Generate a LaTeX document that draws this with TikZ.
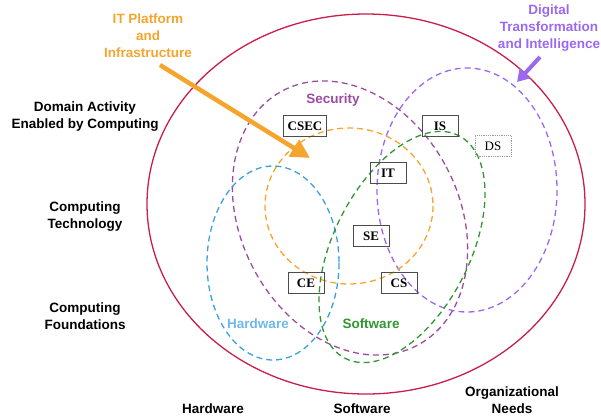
\documentclass[tikz,border=0pt]{standalone}
\usepackage{fontspec}
\setmainfont{Liberation Sans}
\newfontfamily\boxserif{Liberation Serif}
\usepackage{xcolor}
\usepackage{tikz}
\usetikzlibrary{arrows.meta}
\definecolor{ringred}{RGB}{200,30,75}
\definecolor{secpurple}{RGB}{155,75,160}
\definecolor{dtviolet}{RGB}{155,105,240}
\definecolor{itorange}{RGB}{245,165,45}
\definecolor{hwblue}{RGB}{60,160,220}
\definecolor{hwtext}{RGB}{110,185,235}
\definecolor{swgreen}{RGB}{50,150,50}
\newcommand{\labfont}{\fontsize{13.5}{17}\selectfont\bfseries}
\newcommand{\discfont}{\boxserif\fontsize{13}{14}\selectfont}

\begin{document}
\begin{tikzpicture}[x=1pt,y=-1pt,
	lab/.style={font=\labfont,align=center,inner sep=0pt},
	disc/.style={font=\discfont\bfseries,draw=black!70,line width=0.8pt,minimum width=36pt,minimum height=21pt,inner sep=4pt},
	ring/.style={line width=1.3pt,dash pattern=on 6pt off 4pt}]
	\useasboundingbox (0,0) rectangle (601,416);
	\draw[ringred,line width=1.3pt] (366,204) ellipse (219 and 190);
	\draw[ring,secpurple,rotate around={28:(350,218)}] (350,218) ellipse (109 and 144);
	\draw[ring,dtviolet] (467,190) ellipse (90 and 122);
	\draw[ring,itorange] (349,206) ellipse (84 and 78);
	\draw[ring,hwblue] (273,263) ellipse (66 and 97);
	\draw[ring,swgreen,rotate around={-27:(402,247)}] (402,247) ellipse (68 and 125);
	\node[disc] (csec) at (305,126) {CSEC};
	\node[disc] (is) at (440,126) {IS};
	\node[disc,font=\discfont,draw=black!40,densely dotted] (ds) at (493,146) {DS};
	\node[disc] (it) at (388,173) {IT};
	\node[disc] (se) at (371,236) {SE};
	\node[disc] (ce) at (306,283) {CE};
	\node[disc] (cs) at (399,283) {CS};
	\node[lab,text=secpurple] (seclab) at (333,100) {Security};
	\node[lab,text=hwtext] (hwlab) at (258,324) {Hardware};
	\node[lab,text=swgreen] (swlab) at (371,324) {Software};
	\node[lab,text=itorange] (itlab) at (148,35.5) {IT Platform\\and\\Infrastructure};
	\node[lab,text=dtviolet] (dtlab) at (549,28.5) {Digital\\Transformation\\and Intelligence};
	\node[lab] (domain) at (85,117) {Domain Activity\\Enabled by Computing};
	\node[lab] (tech) at (85,216.5) {Computing\\Technology};
	\node[lab] (found) at (85,316.5) {Computing\\Foundations};
	\node[lab] (hwaxis) at (213,409) {Hardware};
	\node[lab] (swaxis) at (362,409) {Software};
	\node[lab] (orgaxis) at (512,400) {Organizational\\Needs};
	\coordinate (itfrom) at (160,65);
	\coordinate (itto) at (310,158);
	\coordinate (dtfrom) at (540,57);
	\coordinate (dtto) at (517,82);
	\draw[itorange,line width=4.5pt,-{Triangle[length=19pt,width=19pt]}] (itfrom) -- (itto);
	\draw[dtviolet,line width=4pt,-{Triangle[length=12pt,width=14pt]}] (dtfrom) -- (dtto);
\end{tikzpicture}
\end{document}
